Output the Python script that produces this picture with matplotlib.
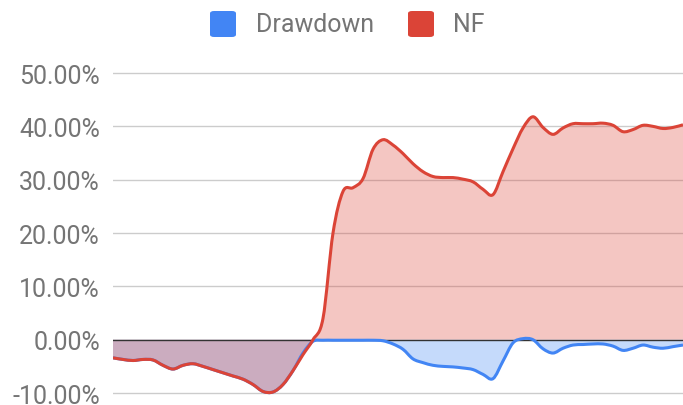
import numpy as np
import matplotlib
matplotlib.use("Agg")
import matplotlib.pyplot as plt
from matplotlib.patches import FancyBboxPatch, PathPatch
from matplotlib.path import Path

plt.rcParams['font.family'] = ['Roboto', 'DejaVu Sans']

# period index (no x labels shown on the chart)
period = list(range(58))

nf = [-3.4, -3.7, -3.9, -3.7, -3.8, -4.8, -5.5, -4.8, -4.5, -5.0,
      -5.6, -6.2, -6.8, -7.4, -8.4, -9.7, -9.8, -8.4, -5.8, -2.8,
      0.0, 4.0, 20.0, 27.8, 28.5, 30.2, 35.7, 37.5, 36.5, 34.9,
      33.0, 31.5, 30.6, 30.4, 30.4, 30.1, 29.6, 28.2, 27.2, 31.5,
      35.8, 39.7, 41.8, 39.8, 38.5, 39.7, 40.5, 40.5, 40.5, 40.6,
      40.2, 39.0, 39.4, 40.2, 40.0, 39.6, 39.8, 40.3]

drawdown = [-3.4, -3.7, -3.9, -3.7, -3.8, -4.8, -5.5, -4.8, -4.5, -5.0,
            -5.6, -6.2, -6.8, -7.4, -8.4, -9.7, -9.8, -8.4, -5.8, -2.5,
            -0.3, -0.1, -0.1, -0.1, -0.1, -0.1, -0.1, -0.2, -0.8, -1.8,
            -3.6, -4.3, -4.8, -5.0, -5.1, -5.3, -5.6, -6.5, -7.3, -4.0,
            -0.6, 0.2, 0.0, -1.7, -2.5, -1.6, -1.0, -0.9, -0.8, -0.8,
            -1.2, -2.0, -1.6, -1.0, -1.4, -1.6, -1.3, -1.0]

y_ticks = [-10, 0, 10, 20, 30, 40, 50]
series_names = ['Drawdown', 'NF']

BLUE = '#4285f4'
RED = '#db4437'


def smooth_path(xs, ys, close_to=None):
    # cubic bezier through the points (like curveType: 'function')
    pts = np.column_stack([xs, ys]).astype(float)
    n = len(pts)
    verts = [pts[0]]
    codes = [Path.MOVETO]
    for i in range(n - 1):
        p0 = pts[max(i - 1, 0)]
        p1 = pts[i]
        p2 = pts[i + 1]
        p3 = pts[min(i + 2, n - 1)]
        c1 = p1 + (p2 - p0) / 6.0
        c2 = p2 - (p3 - p1) / 6.0
        verts += [c1, c2, p2]
        codes += [Path.CURVE4] * 3
    if close_to is not None:
        verts += [(xs[-1], close_to), (xs[0], close_to), pts[0]]
        codes += [Path.LINETO, Path.LINETO, Path.CLOSEPOLY]
    return Path(verts, codes)


fig = plt.figure(figsize=(6.83, 4.06), dpi=100)
ax = fig.add_axes([113 / 683, 0.0, 1 - 113 / 683, 346 / 406])

x = np.array(period)

# areas
for vals, col in [(drawdown, BLUE), (nf, RED)]:
    ax.add_patch(PathPatch(smooth_path(x, vals, close_to=0), facecolor=col,
                           alpha=0.3, lw=0, zorder=2))

for t in y_ticks:
    if t != 0:
        ax.axhline(t, color='#cccccc', lw=1, zorder=1)
ax.axhline(0, color='#333333', lw=1, zorder=3)

# lines
ax.add_patch(PathPatch(smooth_path(x, drawdown), facecolor='none',
                       edgecolor=BLUE, lw=2.2, joinstyle='round', zorder=4))
ax.add_patch(PathPatch(smooth_path(x, nf), facecolor='none',
                       edgecolor=RED, lw=2.2, joinstyle='round', zorder=5))

ax.set_xlim(0, 57)
ax.set_ylim(-12.24, 52.63)
ax.set_yticks(y_ticks)
ax.set_yticklabels(['%.2f%%' % t for t in y_ticks])
ax.tick_params(axis='y', length=0, pad=9.4, labelsize=18, labelcolor='#757575')
ax.set_xticks([])
for s in ax.spines.values():
    s.set_visible(False)

# legend (top, centered)
W, H = 683, 406
for (x0, x1), name, col, tx in [((210, 236), series_names[0], BLUE, 256),
                                ((408, 434), series_names[1], RED, 453)]:
    box = FancyBboxPatch((x0 / W, 1 - 38 / H), (x1 - x0) / W, 26 / H,
                         boxstyle='round,pad=0,rounding_size=0.006',
                         transform=fig.transFigure, facecolor=col,
                         edgecolor='none')
    fig.patches.append(box)
    fig.text(tx / W, 1 - 25 / H, name, fontsize=18, color='#757575',
             va='center', ha='left')

fig.savefig('out.png', dpi=100)
